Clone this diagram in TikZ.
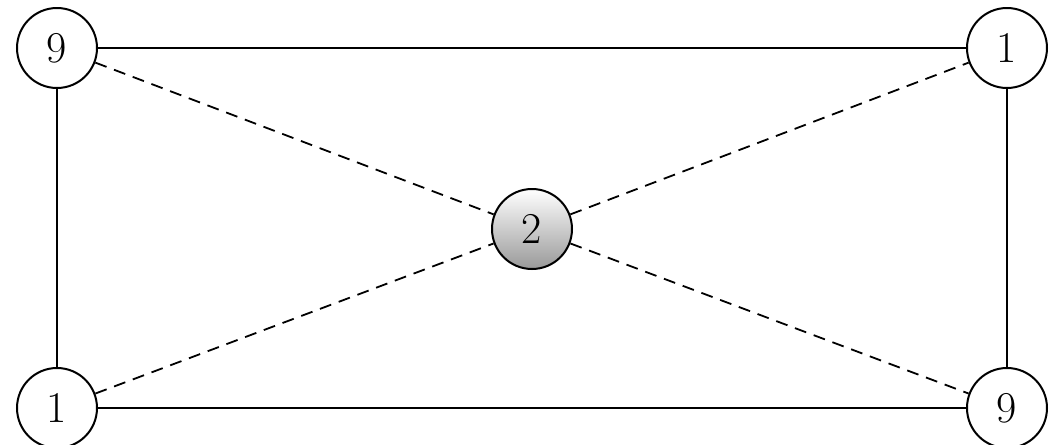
\documentclass[tikz,border=0pt]{standalone}
\begin{document}
\begin{tikzpicture}[x=0.5pt,y=-0.5pt,
  vtx/.style={circle,draw,line width=1pt,minimum size=40pt,inner sep=0pt,fill=white,
    font=\fontsize{22}{26}\selectfont},
  hub/.style={vtx,top color=white,bottom color=black!40},
  edge/.style={line width=1pt},
  diag/.style={line width=0.9pt,dash pattern=on 6pt off 4pt}]
  \useasboundingbox (0,0) rectangle (1057,445);
  \node[vtx] (a) at (57,48)    {9};
  \node[vtx] (b) at (1007,48)  {1};
  \node[vtx] (c) at (57,408)   {1};
  \node[vtx] (d) at (1007,408) {9};
  \node[hub] (e) at (532,229)  {2};
  \draw[edge] (a) -- (b);
  \draw[edge] (a) -- (c);
  \draw[edge] (c) -- (d);
  \draw[edge] (b) -- (d);
  \draw[diag] (a) -- (e);
  \draw[diag] (e) -- (d);
  \draw[diag] (c) -- (e);
  \draw[diag] (e) -- (b);
\end{tikzpicture}
\end{document}
